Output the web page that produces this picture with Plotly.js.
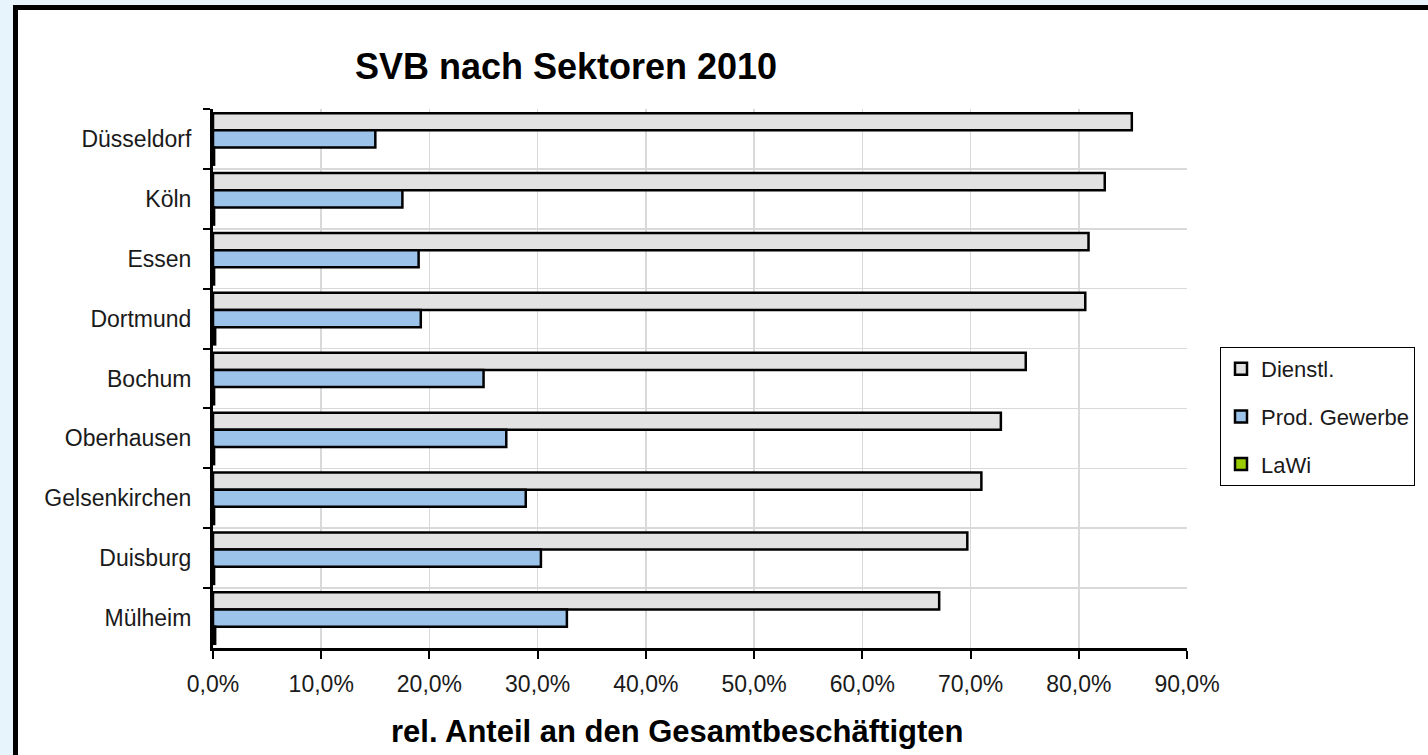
<!DOCTYPE html>
<html>
<head>
<meta charset="utf-8">
<script src="https://cdn.plot.ly/plotly-3.0.1.min.js"></script>
<style>
  html, body { margin:0; padding:0; width:1428px; height:755px; overflow:hidden; background:#e8f4fb; }
  #frame { position:absolute; left:13px; top:5px; width:1600px; height:745px; background:#ffffff;
           border-left:5px solid #000; border-top:5px solid #000; border-bottom:2px solid #888; }
  #chart { position:absolute; left:0; top:0; width:1428px; height:755px; }
</style>
</head>
<body>
<div id="frame"></div>
<div id="chart"></div>
<script>
const categories = ['Düsseldorf','Köln','Essen','Dortmund','Bochum','Oberhausen','Gelsenkirchen','Duisburg','Mülheim'];
const dienstl = [84.9, 82.4, 80.9, 80.6, 75.1, 72.8, 71.0, 69.7, 67.1];
const prodGewerbe = [15.0, 17.5, 19.0, 19.2, 25.0, 27.1, 28.9, 30.3, 32.7];
const lawi = [0.1, 0.1, 0.1, 0.2, 0.1, 0.1, 0.1, 0.1, 0.2];
const seriesNames = ['Dienstl.', 'Prod. Gewerbe', 'LaWi'];
const xTickVals = [0, 10, 20, 30, 40, 50, 60, 70, 80, 90];
const xTickText = ['0,0%', '10,0%', '20,0%', '30,0%', '40,0%', '50,0%', '60,0%', '70,0%', '80,0%', '90,0%'];

const FONT = 'Liberation Sans, Arial, sans-serif';
const colors = ['#e2e2e2', '#9cc3ea', '#99cc00'];
const seriesData = [dienstl, prodGewerbe, lawi];

const traces = seriesData.map((vals, i) => ({
  type: 'bar',
  orientation: 'h',
  name: seriesNames[i],
  legendgroup: 'g' + i,
  y: categories,
  x: vals,
  marker: { color: colors[i], line: { color: '#000000', width: 2.5 } },
  hoverinfo: 'skip'
}));

const layout = {
  width: 1428,
  height: 755,
  paper_bgcolor: 'rgba(0,0,0,0)',
  plot_bgcolor: '#ffffff',
  margin: { l: 213, r: 241, t: 109, b: 107, pad: 0 },
  font: { family: FONT, size: 22, color: '#1a1a1a' },
  separators: ',.',
  barmode: 'group',
  bargap: 0.14,
  bargroupgap: 0,
  title: {
    text: '<b>SVB nach Sektoren 2010</b>',
    font: { family: FONT, size: 36, color: '#000' },
    xref: 'container', x: 566 / 1428, xanchor: 'center',
    yref: 'container', y: 1 - 66 / 755, yanchor: 'middle'
  },
  xaxis: {
    range: [0, 90],
    tickmode: 'array',
    tickvals: xTickVals,
    ticktext: xTickText,
    showgrid: true,
    gridcolor: '#d9d9d9',
    gridwidth: 1.5,
    zeroline: false,
    showline: true,
    linecolor: '#000',
    linewidth: 2.5,
    ticks: 'outside',
    ticklen: 8,
    tickwidth: 2,
    tickcolor: '#000',
    ticklabelstandoff: 6,
    tickfont: { family: FONT, size: 23, color: '#1a1a1a' },
    fixedrange: true
  },
  yaxis: {
    type: 'category',
    autorange: 'reversed',
    tickson: 'boundaries',
    showgrid: true,
    gridcolor: '#d9d9d9',
    gridwidth: 1.5,
    zeroline: false,
    showline: true,
    linecolor: '#000',
    linewidth: 3,
    ticks: 'outside',
    ticklen: 7,
    tickwidth: 2,
    tickcolor: '#000',
    ticklabelstandoff: 14,
    tickfont: { family: FONT, size: 23, color: '#1a1a1a' },
    fixedrange: true
  },
  legend: {
    x: (1220 - 213) / 974, xanchor: 'left',
    y: (648 - 347) / 539, yanchor: 'top',
    bgcolor: '#ffffff',
    bordercolor: '#000',
    borderwidth: 1,
    traceorder: 'grouped',
    tracegroupgap: 16,
    itemwidth: 30,
    font: { family: FONT, size: 22, color: '#1a1a1a' }
  },
  annotations: [{
    text: '<b>rel. Anteil an den Gesamtbeschäftigten</b>',
    xref: 'paper', x: (677 - 213) / 974, xanchor: 'center',
    yref: 'paper', y: (648 - 731) / 539, yanchor: 'middle',
    showarrow: false,
    font: { family: FONT, size: 31, color: '#000' }
  }]
};

Plotly.newPlot('chart', traces, layout, { displayModeBar: false, staticPlot: true });
</script>
</body>
</html>
